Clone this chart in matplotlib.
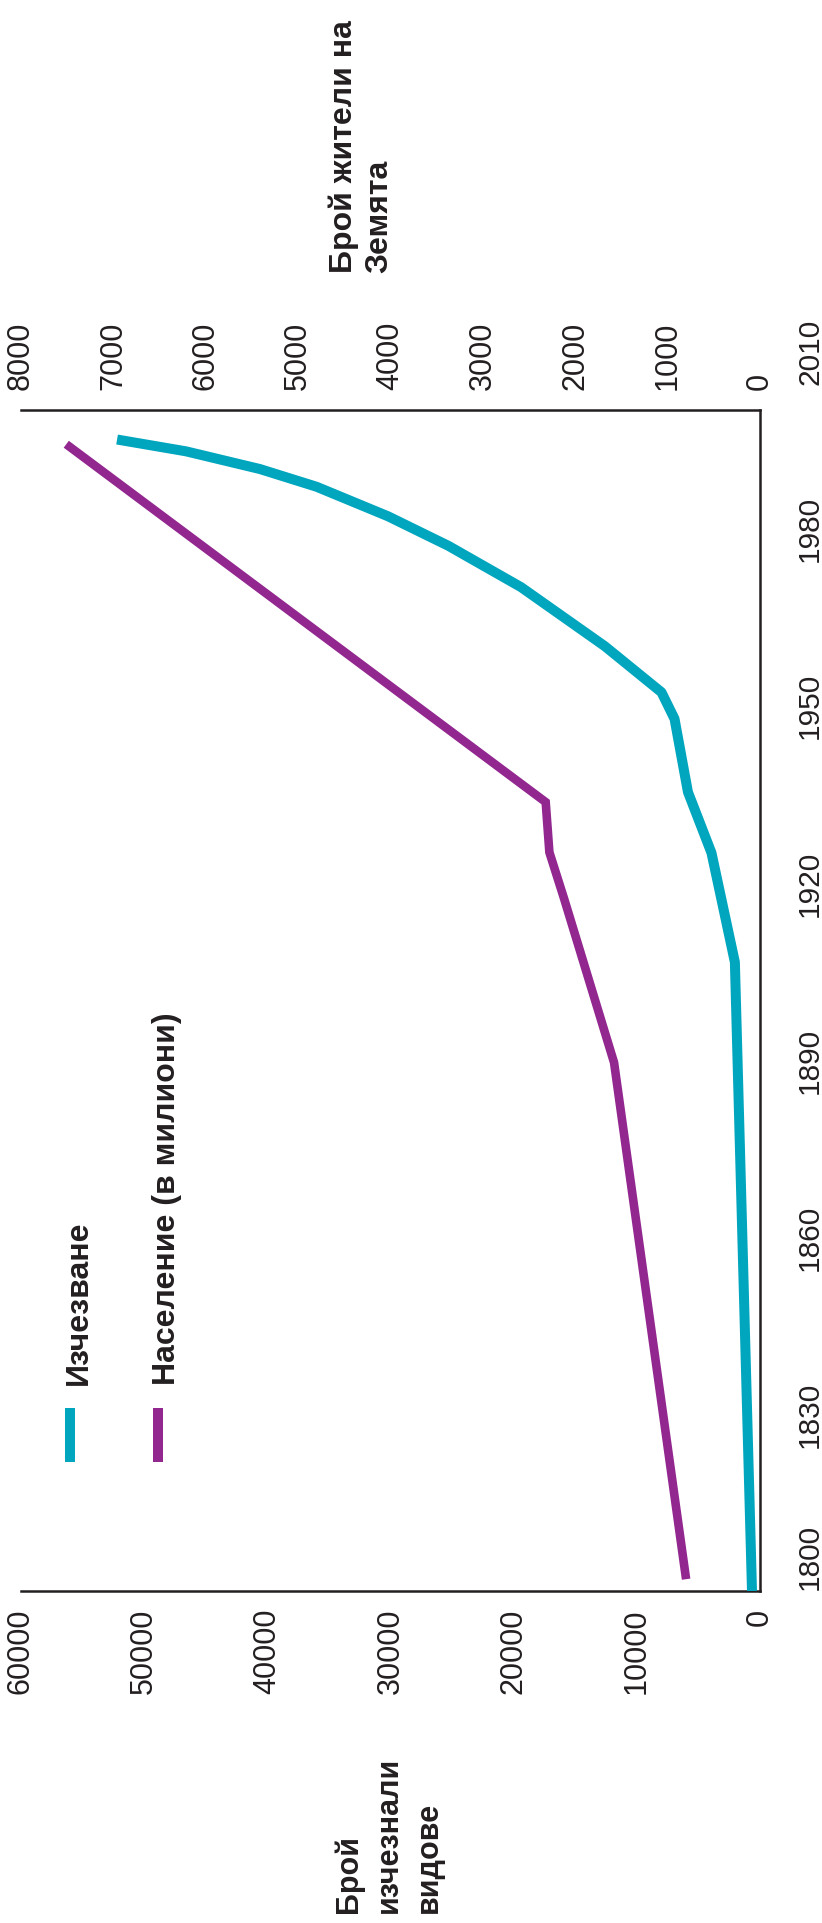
import matplotlib
matplotlib.use('Agg')
import matplotlib.pyplot as plt
from matplotlib import transforms as mtransforms
from matplotlib.lines import Line2D

plt.rcParams['font.family'] = ['Liberation Sans', 'DejaVu Sans']

# ---------------- data ----------------
ext_years = [1800, 1906.5, 1925, 1935.3, 1947.7, 1952.2, 1960, 1970, 1977, 1982, 1987, 1990, 1993, 1995]
ext_values = [650, 2040, 3940, 5850, 6940, 8000, 12600, 19400, 25300, 30200, 36000, 40600, 46600, 52200]

pop_years = [1802, 1889.5, 1917.2, 1925.1, 1933.6, 1994.2]
pop_values = [800, 1580, 2120, 2280, 2320, 7510]

year_ticks = [1800, 1830, 1860, 1890, 1920, 1950, 1980, 2010]
ext_ticks = [0, 10000, 20000, 30000, 40000, 50000, 60000]
pop_ticks = [0, 1000, 2000, 3000, 4000, 5000, 6000, 7000, 8000]

series_names = ['Изчезване', 'Население (в милиони)']
ext_title = 'Брой\nизчезнали\nвидове'
pop_title = 'Брой жители на\nЗемята'

# ---------------- style ----------------
TEAL = '#00A6BE'
PURPLE = '#92278F'
INK = '#231F20'
W, H = 822, 1924
DPI = 100

fig = plt.figure(figsize=(W / DPI, H / DPI), dpi=DPI)
fig.patch.set_facecolor('white')

left_px, right_px, top_px, bot_px = 21, 760, 411, 1592
ax = fig.add_axes([left_px / W, 1 - bot_px / H, (right_px - left_px) / W, (bot_px - top_px) / H])
ax2 = ax.twiny()

# extinction on main axes (value horizontal, inverted)
ax.plot(ext_values, ext_years, color=TEAL, lw=7.2, solid_capstyle='butt', solid_joinstyle='round', zorder=3)
ax.set_xlim(60000, 0)
ax.set_ylim(1800, 2000)

# population on twin axes
ax2.plot(pop_values, pop_years, color=PURPLE, lw=6.2, solid_capstyle='butt', solid_joinstyle='miter', zorder=3)
ax2.set_xlim(8000, 0)
ax2.set_ylim(1800, 2000)

for a in (ax, ax2):
    a.set_facecolor('none')
    for s in a.spines.values():
        s.set_visible(False)

ax.spines['bottom'].set_visible(True)
ax.spines['right'].set_visible(True)
ax2.spines['top'].set_visible(True)
for a, side in ((ax, 'bottom'), (ax, 'right'), (ax2, 'top')):
    a.spines[side].set_color(INK)
    a.spines[side].set_linewidth(1.8)
    a.spines[side].set_capstyle('projecting')

FS = 22
# extinction ticks (bottom)
ax.set_xticks(ext_ticks)
ax.set_xticklabels([str(v) for v in ext_ticks], rotation=90, va='top', ha='center', fontsize=FS, color=INK)
ax.tick_params(axis='x', length=0, pad=12)
# population ticks (top)
ax2.set_xticks(pop_ticks)
ax2.set_xticklabels([str(v) for v in pop_ticks], rotation=90, va='bottom', ha='center', fontsize=FS, color=INK)
ax2.tick_params(axis='x', length=0, pad=15)

# years on the right (manual so that 2010 can sit past the frame)
ax.set_yticks([])
ax2.set_yticks([])
blend = mtransforms.blended_transform_factory(ax.transAxes, ax.transData)
for yr in year_ticks:
    dy = 35 / DPI if yr == 1800 else 0
    off = mtransforms.ScaledTranslation(36 / DPI, dy, fig.dpi_scale_trans)
    ax.text(1.0, yr, str(yr), transform=blend + off, rotation=90, ha='left', va='center',
            fontsize=21.5, color=INK, clip_on=False)

# axis titles (anchor = baseline of the last line)
fig.text(382 / W, 1 - 273 / H, pop_title, rotation=90, rotation_mode='anchor', ha='left', va='baseline',
         fontsize=23, fontweight='bold', color=INK, linespacing=1.22, multialignment='left')
fig.text(427 / W, 1 - 1913 / H, ext_title, rotation=90, rotation_mode='anchor', ha='left', va='baseline',
         fontsize=22, fontweight='bold', color=INK, linespacing=1.43, multialignment='left')

# legend (rotated)
leg_colors = [TEAL, PURPLE]
leg_x = [70, 158]
for name, col, lx in zip(series_names, leg_colors, leg_x):
    fig.add_artist(Line2D([lx / W, lx / W], [1 - 1463 / H, 1 - 1409 / H], transform=fig.transFigure,
                          color=col, lw=7.2, solid_capstyle='butt'))
    fig.text((lx + 17) / W, 1 - 1385 / H, name, rotation=90, rotation_mode='anchor', ha='left',
             va='baseline', fontsize=23, fontweight='bold', color=INK)

fig.savefig('out.png', dpi=DPI, facecolor='white')
